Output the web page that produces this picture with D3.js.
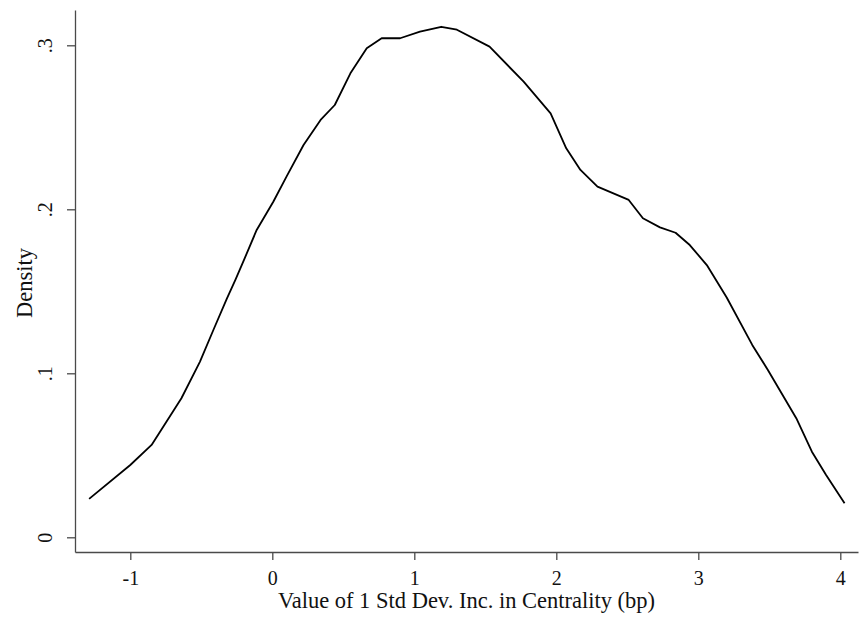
<!DOCTYPE html>
<html>
<head>
<meta charset="utf-8">
<script src="https://cdn.jsdelivr.net/npm/d3@7"></script>
<style>
  body { margin: 0; background: #fff; }
  svg { display: block; }
</style>
</head>
<body>
<div id="chart"></div>
<script>
// kernel density estimate
var xValues = [-1.29, -1.00, -0.85, -0.64, -0.51, -0.415, -0.32, -0.26, -0.20, -0.11,
               0.007, 0.10, 0.22, 0.34, 0.44, 0.55, 0.665, 0.77, 0.90, 1.04,
               1.19, 1.30, 1.53, 1.77, 1.96, 2.07, 2.17, 2.29, 2.51, 2.61,
               2.73, 2.84, 2.94, 3.06, 3.20, 3.38, 3.49, 3.69, 3.80, 3.90, 4.03];
var density = [0.0234, 0.0441, 0.0563, 0.0848, 0.107, 0.1264, 0.1455, 0.1569, 0.169, 0.1874,
               0.2046, 0.2199, 0.2392, 0.2545, 0.2636, 0.2829, 0.2982, 0.3043, 0.3043, 0.3083,
               0.3113, 0.3095, 0.2992, 0.2778, 0.2585, 0.2372, 0.224, 0.2138, 0.2057, 0.1945,
               0.189, 0.1857, 0.1782, 0.166, 0.1462, 0.1173, 0.102, 0.0726, 0.0522, 0.038, 0.0207];
var xTicks = [-1, 0, 1, 2, 3, 4];
var yTicks = [0, 0.1, 0.2, 0.3];

var width = 862;
var height = 618;

// plot region in pixels
var plot = {left: 75, right: 858, top: 10, bottom: 552};

var points = xValues.map((v, i) => ({x: v, y: density[i]}));

var svg = d3.select("#chart")
  .append("svg")
  .attr("width", width)
  .attr("height", height);

svg.append("rect")
  .attr("width", width)
  .attr("height", height)
  .attr("fill", "#fff");

// pixel ticks: 0 -> 272.3, 142 px per unit; y 0 -> 537.3, 1640 px per unit
var xScale = d3.scaleLinear()
  .domain([(plot.left - 272.3) / 142, (plot.right - 272.3) / 142])
  .range([plot.left, plot.right]);
var yScale = d3.scaleLinear()
  .domain([(537.3 - plot.bottom) / 1640, (537.3 - plot.top) / 1640])
  .range([plot.bottom, plot.top]);

var font = "'Liberation Serif', 'Times New Roman', serif";

// x axis
var xAxis = svg.append("g")
  .attr("transform", `translate(0,${plot.bottom})`)
  .call(d3.axisBottom(xScale).tickValues(xTicks).tickSize(8).tickSizeOuter(0)
    .tickFormat(d => String(d)));
xAxis.selectAll(".tick text")
  .attr("y", 33)
  .attr("dy", 0)
  .style("font-family", font)
  .style("font-size", "20px")
  .attr("fill", "#111");

// y axis, labels turned on their side
var yAxis = svg.append("g")
  .attr("transform", `translate(${plot.left},0)`)
  .call(d3.axisLeft(yScale).tickValues(yTicks).tickSize(8).tickSizeOuter(0)
    .tickFormat(d => d === 0 ? "0" : d3.format(".1f")(d).replace(/^0/, "")));
yAxis.selectAll(".tick text")
  .attr("transform", "rotate(-90)")
  .attr("text-anchor", "middle")
  .attr("x", 0)
  .attr("y", -23)
  .attr("dy", 0)
  .style("font-family", font)
  .style("font-size", "20px")
  .attr("fill", "#111");

svg.selectAll(".domain, .tick line")
  .attr("stroke", "#4a4a4a")
  .attr("stroke-width", 1.3);

// density line
var line = d3.line()
  .x(d => xScale(d.x))
  .y(d => yScale(d.y));

svg.append("path")
  .datum(points)
  .attr("fill", "none")
  .attr("stroke", "#000")
  .attr("stroke-width", 1.8)
  .attr("stroke-linejoin", "round")
  .attr("d", line);

// axis titles
svg.append("text")
  .attr("x", (plot.left + plot.right) / 2)
  .attr("y", 608)
  .attr("text-anchor", "middle")
  .style("font-family", font)
  .style("font-size", "22.5px")
  .attr("fill", "#111")
  .text("Value of 1 Std Dev. Inc. in Centrality (bp)");

svg.append("text")
  .attr("transform", `translate(32,283) rotate(-90)`)
  .attr("text-anchor", "middle")
  .style("font-family", font)
  .style("font-size", "22.5px")
  .attr("fill", "#111")
  .text("Density");
</script>
</body>
</html>
